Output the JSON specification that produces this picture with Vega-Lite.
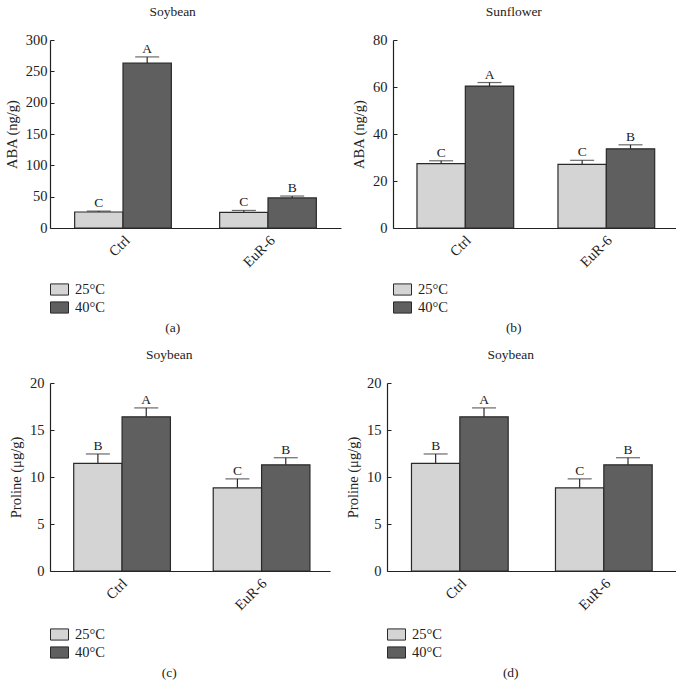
{
  "$schema": "https://vega.github.io/schema/vega-lite/v6.json",
  "padding": {"left": 4, "top": 4, "right": 0, "bottom": 0},
  "background": "white",
  "datasets": {
    "a": [
      {"sample": "Ctrl", "temp": "25°C", "value": 25.5, "upper": 27, "letter": "C"},
      {"sample": "Ctrl", "temp": "40°C", "value": 263, "upper": 273, "letter": "A"},
      {"sample": "EuR-6", "temp": "25°C", "value": 25, "upper": 28, "letter": "C"},
      {"sample": "EuR-6", "temp": "40°C", "value": 48, "upper": 51, "letter": "B"}
    ],
    "b": [
      {"sample": "Ctrl", "temp": "25°C", "value": 27.4, "upper": 28.6, "letter": "C"},
      {"sample": "Ctrl", "temp": "40°C", "value": 60.4, "upper": 61.9, "letter": "A"},
      {"sample": "EuR-6", "temp": "25°C", "value": 27.1, "upper": 28.8, "letter": "C"},
      {"sample": "EuR-6", "temp": "40°C", "value": 33.7, "upper": 35.4, "letter": "B"}
    ],
    "c": [
      {"sample": "Ctrl", "temp": "25°C", "value": 11.45, "upper": 12.45, "letter": "B"},
      {"sample": "Ctrl", "temp": "40°C", "value": 16.4, "upper": 17.35, "letter": "A"},
      {"sample": "EuR-6", "temp": "25°C", "value": 8.85, "upper": 9.8, "letter": "C"},
      {"sample": "EuR-6", "temp": "40°C", "value": 11.3, "upper": 12.05, "letter": "B"}
    ],
    "d": [
      {"sample": "Ctrl", "temp": "25°C", "value": 11.45, "upper": 12.45, "letter": "B"},
      {"sample": "Ctrl", "temp": "40°C", "value": 16.4, "upper": 17.35, "letter": "A"},
      {"sample": "EuR-6", "temp": "25°C", "value": 8.85, "upper": 9.8, "letter": "C"},
      {"sample": "EuR-6", "temp": "40°C", "value": 11.3, "upper": 12.05, "letter": "B"}
    ]
  },
  "columns": 1,
  "align": "none",
  "spacing": 12,
  "resolve": {"scale": {"fill": "independent"}, "legend": {"fill": "independent"}},
  "concat": [
    {
      "spacing": 10,
      "resolve": {"scale": {"fill": "independent"}, "legend": {"fill": "independent"}},
      "hconcat": [
        {
          "title": {"text": "(a)", "orient": "bottom", "offset": 5, "anchor": "middle"},
          "resolve": {"scale": {"fill": "independent"}, "legend": {"fill": "independent"}},
          "vconcat": [
            {
              "data": {"name": "a"},
              "width": 291, "height": 188,
              "title": {"text": "Soybean", "offset": 14, "anchor": "middle", "frame": "bounds"},
              "encoding": {
                "x": {"field": "sample", "type": "nominal", "sort": ["Ctrl", "EuR-6"], "scale": {"paddingInner": 0.333, "paddingOuter": 0.17}, "axis": {"title": null, "labelAngle": -45, "ticks": false, "labelPadding": 5}},
                "xOffset": {"field": "temp", "type": "nominal", "sort": ["25°C", "40°C"], "scale": {"paddingInner": 0, "paddingOuter": 0}}
              },
              "layer": [
                {"mark": {"type": "bar", "stroke": "#2a2a2a", "strokeWidth": 1.2},
                 "encoding": {
                   "y": {"field": "value", "type": "quantitative", "title": "ABA (ng/g)", "scale": {"domain": [0, 300], "nice": false}, "axis": {"values": [0, 50, 100, 150, 200, 250, 300], "labelPadding": 7}},
                   "fill": {"field": "temp", "type": "nominal", "title": null, "scale": {"domain": ["25°C", "40°C"], "range": ["#d4d4d4", "#5f5f5f"]}, "legend": {"offset": 10}}
                 }},
                {"mark": {"type": "rule", "color": "#2a2a2a", "strokeWidth": 1.2},
                 "encoding": {"y": {"field": "value", "type": "quantitative", "title": "ABA (ng/g)", "axis": {"values": [0, 50, 100, 150, 200, 250, 300], "labelPadding": 7}}, "y2": {"field": "upper"}}},
                {"mark": {"type": "tick", "color": "#2a2a2a", "size": 24, "thickness": 1.2, "orient": "horizontal"},
                 "encoding": {"y": {"field": "upper", "type": "quantitative", "title": "ABA (ng/g)", "axis": {"values": [0, 50, 100, 150, 200, 250, 300], "labelPadding": 7}}}},
                {"mark": {"type": "text", "baseline": "bottom", "dy": -1, "fontSize": 13.5, "color": "#222"},
                 "encoding": {"y": {"field": "upper", "type": "quantitative", "title": "ABA (ng/g)", "axis": {"values": [0, 50, 100, 150, 200, 250, 300], "labelPadding": 7}}, "text": {"field": "letter"}}}
              ]
            }
          ]
        },
        {
          "title": {"text": "(b)", "orient": "bottom", "offset": 5, "anchor": "middle"},
          "resolve": {"scale": {"fill": "independent"}, "legend": {"fill": "independent"}},
          "vconcat": [
            {
              "data": {"name": "b"},
              "width": 283, "height": 188,
              "title": {"text": "Sunflower", "offset": 14, "anchor": "middle", "frame": "bounds"},
              "encoding": {
                "x": {"field": "sample", "type": "nominal", "sort": ["Ctrl", "EuR-6"], "scale": {"paddingInner": 0.333, "paddingOuter": 0.17}, "axis": {"title": null, "labelAngle": -45, "ticks": false, "labelPadding": 5}},
                "xOffset": {"field": "temp", "type": "nominal", "sort": ["25°C", "40°C"], "scale": {"paddingInner": 0, "paddingOuter": 0}}
              },
              "layer": [
                {"mark": {"type": "bar", "stroke": "#2a2a2a", "strokeWidth": 1.2},
                 "encoding": {
                   "y": {"field": "value", "type": "quantitative", "title": "ABA (ng/g)", "scale": {"domain": [0, 80], "nice": false}, "axis": {"values": [0, 20, 40, 60, 80]}},
                   "fill": {"field": "temp", "type": "nominal", "title": null, "scale": {"domain": ["25°C", "40°C"], "range": ["#d4d4d4", "#5f5f5f"]}, "legend": {"offset": 10}}
                 }},
                {"mark": {"type": "rule", "color": "#2a2a2a", "strokeWidth": 1.2},
                 "encoding": {"y": {"field": "value", "type": "quantitative", "title": "ABA (ng/g)", "axis": {"values": [0, 20, 40, 60, 80]}}, "y2": {"field": "upper"}}},
                {"mark": {"type": "tick", "color": "#2a2a2a", "size": 24, "thickness": 1.2, "orient": "horizontal"},
                 "encoding": {"y": {"field": "upper", "type": "quantitative", "title": "ABA (ng/g)", "axis": {"values": [0, 20, 40, 60, 80]}}}},
                {"mark": {"type": "text", "baseline": "bottom", "dy": -1, "fontSize": 13.5, "color": "#222"},
                 "encoding": {"y": {"field": "upper", "type": "quantitative", "title": "ABA (ng/g)", "axis": {"values": [0, 20, 40, 60, 80]}}, "text": {"field": "letter"}}}
              ]
            }
          ]
        }
      ]
    },
    {
      "spacing": 15,
      "resolve": {"scale": {"fill": "independent"}, "legend": {"fill": "independent"}},
      "hconcat": [
        {
          "title": {"text": "(c)", "orient": "bottom", "offset": 5, "anchor": "middle"},
          "resolve": {"scale": {"fill": "independent"}, "legend": {"fill": "independent"}},
          "vconcat": [
            {
              "data": {"name": "c"},
              "width": 280, "height": 188,
              "title": {"text": "Soybean", "offset": 14, "anchor": "middle", "frame": "bounds"},
              "encoding": {
                "x": {"field": "sample", "type": "nominal", "sort": ["Ctrl", "EuR-6"], "scale": {"paddingInner": 0.333, "paddingOuter": 0.17}, "axis": {"title": null, "labelAngle": -45, "ticks": false, "labelPadding": 5}},
                "xOffset": {"field": "temp", "type": "nominal", "sort": ["25°C", "40°C"], "scale": {"paddingInner": 0, "paddingOuter": 0}}
              },
              "layer": [
                {"mark": {"type": "bar", "stroke": "#2a2a2a", "strokeWidth": 1.2},
                 "encoding": {
                   "y": {"field": "value", "type": "quantitative", "title": "Proline (μg/g)", "scale": {"domain": [0, 20], "nice": false}, "axis": {"values": [0, 5, 10, 15, 20]}},
                   "fill": {"field": "temp", "type": "nominal", "title": null, "scale": {"domain": ["25°C", "40°C"], "range": ["#d4d4d4", "#5f5f5f"]}, "legend": {"offset": 12}}
                 }},
                {"mark": {"type": "rule", "color": "#2a2a2a", "strokeWidth": 1.2},
                 "encoding": {"y": {"field": "value", "type": "quantitative", "title": "Proline (μg/g)", "axis": {"values": [0, 5, 10, 15, 20]}}, "y2": {"field": "upper"}}},
                {"mark": {"type": "tick", "color": "#2a2a2a", "size": 24, "thickness": 1.2, "orient": "horizontal"},
                 "encoding": {"y": {"field": "upper", "type": "quantitative", "title": "Proline (μg/g)", "axis": {"values": [0, 5, 10, 15, 20]}}}},
                {"mark": {"type": "text", "baseline": "bottom", "dy": -1, "fontSize": 13.5, "color": "#222"},
                 "encoding": {"y": {"field": "upper", "type": "quantitative", "title": "Proline (μg/g)", "axis": {"values": [0, 5, 10, 15, 20]}}, "text": {"field": "letter"}}}
              ]
            }
          ]
        },
        {
          "title": {"text": "(d)", "orient": "bottom", "offset": 5, "anchor": "middle"},
          "resolve": {"scale": {"fill": "independent"}, "legend": {"fill": "independent"}},
          "vconcat": [
            {
              "data": {"name": "d"},
              "width": 289, "height": 188,
              "title": {"text": "Soybean", "offset": 14, "anchor": "middle", "frame": "bounds"},
              "encoding": {
                "x": {"field": "sample", "type": "nominal", "sort": ["Ctrl", "EuR-6"], "scale": {"paddingInner": 0.333, "paddingOuter": 0.17}, "axis": {"title": null, "labelAngle": -45, "ticks": false, "labelPadding": 5}},
                "xOffset": {"field": "temp", "type": "nominal", "sort": ["25°C", "40°C"], "scale": {"paddingInner": 0, "paddingOuter": 0}}
              },
              "layer": [
                {"mark": {"type": "bar", "stroke": "#2a2a2a", "strokeWidth": 1.2},
                 "encoding": {
                   "y": {"field": "value", "type": "quantitative", "title": "Proline (μg/g)", "scale": {"domain": [0, 20], "nice": false}, "axis": {"values": [0, 5, 10, 15, 20]}},
                   "fill": {"field": "temp", "type": "nominal", "title": null, "scale": {"domain": ["25°C", "40°C"], "range": ["#d4d4d4", "#5f5f5f"]}, "legend": {"offset": 12}}
                 }},
                {"mark": {"type": "rule", "color": "#2a2a2a", "strokeWidth": 1.2},
                 "encoding": {"y": {"field": "value", "type": "quantitative", "title": "Proline (μg/g)", "axis": {"values": [0, 5, 10, 15, 20]}}, "y2": {"field": "upper"}}},
                {"mark": {"type": "tick", "color": "#2a2a2a", "size": 24, "thickness": 1.2, "orient": "horizontal"},
                 "encoding": {"y": {"field": "upper", "type": "quantitative", "title": "Proline (μg/g)", "axis": {"values": [0, 5, 10, 15, 20]}}}},
                {"mark": {"type": "text", "baseline": "bottom", "dy": -1, "fontSize": 13.5, "color": "#222"},
                 "encoding": {"y": {"field": "upper", "type": "quantitative", "title": "Proline (μg/g)", "axis": {"values": [0, 5, 10, 15, 20]}}, "text": {"field": "letter"}}}
              ]
            }
          ]
        }
      ]
    }
  ],
  "config": {
    "font": "Liberation Serif",
    "view": {"stroke": null},
    "title": {"fontSize": 13.5, "fontWeight": "normal", "color": "#222", "font": "Liberation Serif"},
    "axis": {"grid": false, "domainColor": "#222", "domainWidth": 1.2, "tickColor": "#222", "tickSize": -4, "labelColor": "#222", "labelFontSize": 14.5, "labelOverlap": false, "labelFont": "Liberation Serif", "titleFont": "Liberation Serif", "titleFontSize": 14.5, "titleFontWeight": "normal", "titleColor": "#222", "labelPadding": 10, "titlePadding": 6},
    "legend": {"orient": "bottom", "direction": "vertical", "offset": 8, "symbolType": "M-1,-0.62H1V0.62H-1Z", "symbolSize": 324, "symbolStrokeColor": "#2a2a2a", "symbolStrokeWidth": 1, "labelFont": "Liberation Serif", "labelFontSize": 14.5, "labelColor": "#222", "rowPadding": 0, "labelOffset": 6}
  }
}
